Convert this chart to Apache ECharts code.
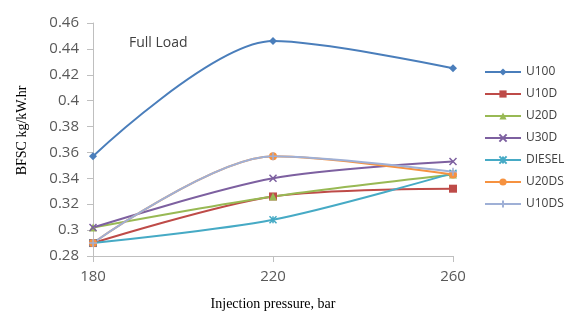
<!DOCTYPE html>
<html>
<head>
<meta charset="utf-8">
<script src="https://cdn.jsdelivr.net/npm/echarts@6/dist/echarts.min.js"></script>
<style>
html, body { margin: 0; padding: 0; background: #fff; }
#main { width: 565px; height: 316px; }
</style>
</head>
<body>
<div id="main"></div>
<script>
// injection pressure, bar
var pressure = [180, 220, 260];
var u100   = [0.357, 0.446, 0.425];
var u10d   = [0.290, 0.326, 0.332];
var u20d   = [0.302, 0.326, 0.343];
var u30d   = [0.302, 0.340, 0.353];
var diesel = [0.290, 0.308, 0.344];
var u20ds  = [0.290, 0.357, 0.343];
var u10ds  = [0.290, 0.357, 0.345];

var dom = document.getElementById("main");
var myChart = echarts.init(dom);

function pairs(vals) {
    return pressure.map(function (p, i) { return [p, vals[i]]; });
}

var xMark = 'path://M0,0L10,10M10,0L0,10';
var starMark = 'path://M0,0L10,10M10,0L0,10M5,0L5,10';
var plusMark = 'path://M0,5L10,5M5,0L5,10';

function line(name, vals, color, symbol, size, stroke) {
    return {
        name: name,
        type: 'line',
        smooth: 0.3,
        data: pairs(vals),
        symbol: symbol,
        symbolSize: size,
        lineStyle: { color: color, width: 2 },
        itemStyle: stroke ? { color: color, borderColor: color, borderWidth: 1.5 } : { color: color, borderWidth: 0 }
    };
}

option = {
    animation: false,
    title: {
        text: 'Full Load',
        left: 124,
        top: 31,
        textStyle: { fontFamily: 'Open Sans', fontSize: 14, fontWeight: 'normal', color: '#404040' }
    },
    legend: {
        orient: 'vertical',
        left: 479,
        top: 61,
        itemWidth: 36,
        itemHeight: 9,
        itemGap: 10,
        textStyle: { fontFamily: 'Open Sans', fontSize: 12, color: '#404040' },
        data: ['U100', 'U10D', 'U20D', 'U30D', 'DIESEL', 'U20DS', 'U10DS']
    },
    grid: { left: 93, right: 112, top: 23, bottom: 60 },
    xAxis: {
        type: 'value',
        min: 180,
        max: 260,
        interval: 40,
        name: 'Injection pressure, bar',
        nameLocation: 'middle',
        nameGap: 41,
        nameTextStyle: { fontFamily: 'Liberation Serif', fontSize: 14, color: '#000' },
        axisLine: { lineStyle: { color: '#bfbfbf' } },
        axisTick: { show: true, length: 6, lineStyle: { color: '#bfbfbf' } },
        axisLabel: { fontFamily: 'Open Sans', fontSize: 15, color: '#595959', margin: 13 },
        splitLine: { show: false }
    },
    yAxis: {
        type: 'value',
        min: 0.28,
        max: 0.46,
        interval: 0.02,
        name: 'BFSC kg/kW.hr',
        nameLocation: 'middle',
        nameGap: 64,
        nameTextStyle: { fontFamily: 'Liberation Serif', fontSize: 14, color: '#000', padding: [0, 0, 0, 18] },
        axisLine: { show: true, lineStyle: { color: '#bfbfbf' } },
        axisTick: { show: true, length: 6, lineStyle: { color: '#bfbfbf' } },
        axisLabel: {
            fontFamily: 'Open Sans', fontSize: 15, color: '#595959', margin: 14,
            formatter: function (v) { return String(+v.toFixed(2)); }
        },
        splitLine: { show: false }
    },
    series: [
        line('U100', u100, '#4a7ebb', 'diamond', 8, false),
        line('U10D', u10d, '#be4b48', 'rect', 8, false),
        line('U20D', u20d, '#98b954', 'triangle', 8, false),
        line('U30D', u30d, '#7d60a0', xMark, 7, true),
        line('DIESEL', diesel, '#46aac5', starMark, 7, true),
        line('U20DS', u20ds, '#f69240', 'circle', 8, false),
        line('U10DS', u10ds, '#9fb0d6', plusMark, 8, true)
    ]
};

if (option && typeof option === "object") {
    myChart.setOption(option, true);
}
</script>
</body>
</html>
